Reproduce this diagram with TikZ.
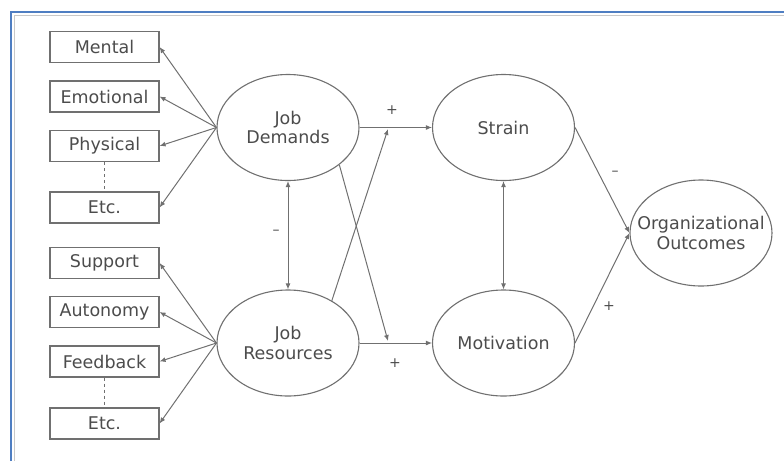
\documentclass[tikz,border=0pt]{standalone}
\usepackage{fontspec}
\setmainfont{DejaVu Sans}
\usetikzlibrary{shapes.geometric,arrows.meta}
\definecolor{lineg}{HTML}{707070}
\definecolor{textg}{HTML}{4C4C4C}
\definecolor{frameblue}{HTML}{4F7EC2}
\definecolor{framegray}{HTML}{C8C8C8}
\tikzset{
  box/.style={draw=lineg, line width=1.1pt, minimum width=109pt, minimum height=31pt, inner sep=0pt, text=textg, font=\fontsize{17.5}{19}\selectfont},
  oval/.style={draw=lineg, line width=1.1pt, ellipse, minimum width=142pt, minimum height=106pt, inner sep=0pt, align=center, text=textg, font=\fontsize{17.5}{19.5}\selectfont},
  conn/.style={draw=lineg, line width=1pt, -{Latex[length=6pt,width=5pt]}},
  dconn/.style={draw=lineg, line width=1pt, {Latex[length=6pt,width=5pt]}-{Latex[length=6pt,width=5pt]}},
  sign/.style={text=textg, font=\fontsize{14}{16}\selectfont, inner sep=0pt}
}
\begin{document}
\begin{tikzpicture}[x=1pt,y=-1pt]
\useasboundingbox (0,0) rectangle (784,461);
% frame
\draw[framegray, line width=1.5pt] (14.5,461) -- (14.5,15.5) -- (784,15.5);
\draw[frameblue, line width=2pt] (11,461) -- (11,12) -- (784,12);
% boxes
\node[box] (mental) at (104.5,47) {Mental};
\node[box] (emot) at (104.5,96.5) {Emotional};
\node[box] (phys) at (104.5,146) {Physical};
\node[box] (etca) at (104.5,207.5) {Etc.};
\node[box] (supp) at (104.5,263) {Support};
\node[box] (auto) at (104.5,312) {Autonomy};
\node[box] (feed) at (104.5,361.5) {Feedback};
\node[box] (etcb) at (104.5,423.5) {Etc.};
% ellipses
\node[oval] (jd) at (288,127.5) {Job\\Demands};
\node[oval] (jr) at (288,343) {Job\\Resources};
\node[oval] (strain) at (503.5,127.5) {Strain};
\node[oval] (motiv) at (503.5,343) {Motivation};
\node[oval, inner xsep=-18pt] (org) at (701,233) {Organizational\\Outcomes};
% fans
\foreach \t in {mental,emot,phys,etca} \draw[conn] (jd.west) -- (\t.east);
\foreach \t in {supp,auto,feed,etcb} \draw[conn] (jr.west) -- (\t.east);
\draw[lineg, line width=1pt, dashed] (phys.south) -- (etca.north);
\draw[lineg, line width=1pt, dashed] (feed.south) -- (etcb.north);
% main arrows
\draw[dconn] (jd.south) -- (jr.north);
\draw[dconn] (strain.south) -- (motiv.north);
\draw[conn] (jd.east) -- (strain.west);
\draw[conn] (jr.east) -- (motiv.west);
\coordinate (upx) at (388,129);
\coordinate (dnx) at (388,341);
\draw[conn] (jr.44) -- (upx);
\draw[conn] (jd.-36) -- (dnx);
\draw[conn] (strain.east) -- (org.west);
\draw[conn] (motiv.east) -- (org.west);
% signs
\node[sign] (s1) at (392,110) {+};
\node[sign] (s2) at (395,363) {+};
\node[sign] (s3) at (276,232) {–};
\node[sign] (s4) at (615,173) {–};
\node[sign] (s5) at (609,306) {+};
\end{tikzpicture}
\end{document}
